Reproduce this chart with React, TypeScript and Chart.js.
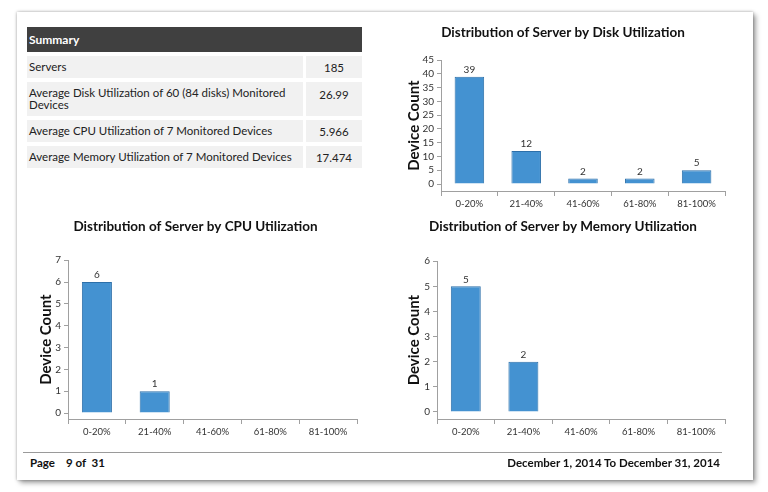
import React, { useEffect, useRef } from "react";
import { Chart, registerables } from "chart.js";

Chart.register(...registerables);

const FONT = "Lato, 'Open Sans', sans-serif";

const categories = ["0-20%", "21-40%", "41-60%", "61-80%", "81-100%"];
const diskCounts = [39, 12, 2, 2, 5];
const cpuCounts = [6, 1, 0, 0, 0];
const memoryCounts = [5, 2, 0, 0, 0];

const diskTicks = [0, 5, 10, 15, 20, 25, 30, 35, 40, 45];
const cpuTicks = [0, 1, 2, 3, 4, 5, 6, 7];
const memoryTicks = [0, 1, 2, 3, 4, 5, 6];

const summaryLabels = [
  "Servers",
  "Average Disk Utilization of 60 (84 disks) Monitored Devices",
  "Average CPU Utilization of 7 Monitored Devices",
  "Average Memory Utilization of 7 Monitored Devices",
];
const summaryValues = ["185", "26.99", "5.966", "17.474"];

const BAR_FILL = "#4492D1";
const BAR_BORDER = "#2C6FA9";
const AXIS = "#A0A0A0";

const valueLabels = {
  id: "valueLabels",
  afterDatasetsDraw(chart: any) {
    const ctx = chart.ctx;
    const meta = chart.getDatasetMeta(0);
    const vals = chart.data.datasets[0].data;
    ctx.save();
    ctx.font = `10px ${FONT}`;
    ctx.fillStyle = "#333";
    ctx.textAlign = "center";
    ctx.textBaseline = "bottom";
    meta.data.forEach((bar: any, i: number) => {
      const v = vals[i];
      if (!v) return;
      ctx.fillText(String(v), bar.x, bar.y - 2);
    });
    ctx.restore();
  },
};

type BarProps = {
  title: string;
  values: number[];
  ticks: number[];
  yMin: number;
  left: number;
  top: number;
  width: number;
  height: number;
  padLeft: number;
  padRight: number;
  yWidth: number;
  yTitlePad: number;
  xHeight: number;
  titleBottom: number;
};

function BarChart(p: BarProps) {
  const ref = useRef<HTMLCanvasElement | null>(null);
  useEffect(() => {
    if (!ref.current) return;
    const chart = new Chart(ref.current, {
      type: "bar",
      data: {
        labels: categories,
        datasets: [
          {
            data: p.values,
            backgroundColor: BAR_FILL,
            borderColor: BAR_BORDER,
            borderWidth: 1,
            barPercentage: 0.52,
            categoryPercentage: 1,
          },
        ],
      },
      options: {
        responsive: false,
        maintainAspectRatio: false,
        animation: false,
        layout: {
          padding: { left: p.padLeft, right: p.padRight, top: 0, bottom: 0 },
        },
        plugins: {
          legend: { display: false },
          tooltip: { enabled: false },
          title: {
            display: true,
            text: p.title,
            color: "#111",
            font: { family: FONT, size: 13.5, weight: "bold" },
            padding: { top: 6, bottom: p.titleBottom },
          },
        },
        scales: {
          x: {
            grid: {
              offset: true,
              drawOnChartArea: false,
              color: AXIS,
              tickLength: 5,
            },
            border: { display: true, color: AXIS, width: 1 },
            ticks: {
              color: "#333",
              font: { family: FONT, size: 9.5 },
              padding: 2,
              maxRotation: 0,
              autoSkip: false,
            },
            afterFit: (s: any) => {
              s.height = p.xHeight;
            },
          },
          y: {
            min: p.yMin,
            max: p.ticks[p.ticks.length - 1],
            afterBuildTicks: (s: any) => {
              s.ticks = p.ticks.map((v) => ({ value: v }));
            },
            grid: {
              drawOnChartArea: false,
              color: AXIS,
              tickLength: 4,
            },
            border: { display: true, color: AXIS, width: 1 },
            ticks: {
              color: "#333",
              font: { family: FONT, size: 10 },
              padding: 3,
              autoSkip: false,
            },
            title: {
              display: true,
              text: "Device Count",
              color: "#111",
              font: { family: FONT, size: 15, weight: "bold" },
              padding: { top: p.yTitlePad, bottom: 0 },
            },
            afterFit: (s: any) => {
              s.width = p.yWidth;
            },
          },
        },
      },
      plugins: [valueLabels],
    });
    return () => chart.destroy();
  }, []);
  return (
    <canvas
      ref={ref}
      width={p.width}
      height={p.height}
      style={{
        position: "absolute",
        left: p.left,
        top: p.top,
        width: p.width,
        height: p.height,
      }}
    />
  );
}

const rowTops = [56, 82, 120, 146];
const rowHeights = [22, 34, 22, 22];

export default function App() {
  return (
    <div
      style={{
        position: "absolute",
        left: 0,
        top: 0,
        width: 768,
        height: 492,
        background: "#fff",
        fontFamily: FONT,
        overflow: "hidden",
      }}
    >
      <div
        style={{
          position: "absolute",
          left: 17,
          top: 12,
          width: 736,
          height: 468,
          background: "#fff",
          boxShadow: "0 0 3px rgba(0,0,0,0.35), 3px 3px 5px rgba(0,0,0,0.35)",
        }}
      />
      {/* Summary table */}
      <div
        style={{
          position: "absolute",
          left: 27,
          top: 27,
          width: 335,
          height: 25,
          background: "#404040",
          color: "#fff",
          fontWeight: "bold",
          fontSize: 12,
          lineHeight: "25px",
          paddingLeft: 2,
          boxSizing: "border-box",
        }}
      >
        Summary
      </div>
      {summaryLabels.map((lab, i) => (
        <React.Fragment key={i}>
          <div
            style={{
              position: "absolute",
              left: 27,
              top: rowTops[i],
              width: 276,
              height: rowHeights[i],
              background: "#F1F1F1",
              color: "#222",
              fontSize: 11.5,
              lineHeight: "12.5px",
              display: "flex",
              alignItems: "center",
              paddingLeft: 2,
              paddingRight: 4,
              boxSizing: "border-box",
            }}
          >
            {lab}
          </div>
          <div
            style={{
              position: "absolute",
              left: 306,
              top: rowTops[i],
              width: 56,
              height: rowHeights[i],
              background: "#F1F1F1",
              color: "#222",
              fontSize: 11.5,
              display: "flex",
              alignItems: i === 1 ? "flex-start" : "center",
              paddingTop: i === 1 ? 6 : 0,
              justifyContent: "center",
              boxSizing: "border-box",
            }}
          >
            {summaryValues[i]}
          </div>
        </React.Fragment>
      ))}
      <BarChart
        title="Distribution of Server by Disk Utilization"
        values={diskCounts}
        ticks={diskTicks}
        yMin={-2.54}
        left={396}
        top={19}
        width={330}
        height={196}
        padLeft={5}
        padRight={1}
        yWidth={40}
        yTitlePad={4}
        xHeight={24}
        titleBottom={19}
      />
      <BarChart
        title="Distribution of Server by CPU Utilization"
        values={cpuCounts}
        ticks={cpuTicks}
        yMin={-0.27}
        left={20}
        top={213}
        width={350}
        height={230}
        padLeft={14}
        padRight={13}
        yWidth={34}
        yTitlePad={3}
        xHeight={24}
        titleBottom={25}
      />
      <BarChart
        title="Distribution of Server by Memory Utilization"
        values={memoryCounts}
        ticks={memoryTicks}
        yMin={-0.28}
        left={396}
        top={213}
        width={330}
        height={230}
        padLeft={5}
        padRight={1}
        yWidth={36}
        yTitlePad={4}
        xHeight={24}
        titleBottom={26}
      />
      {/* Footer */}
      <div
        style={{
          position: "absolute",
          left: 23,
          top: 452,
          width: 699,
          height: 0,
          borderTop: "1.5px solid #9a9a9a",
        }}
      />
      <div
        style={{
          position: "absolute",
          left: 30,
          top: 456,
          fontSize: 11.5,
          fontWeight: "bold",
          color: "#111",
          whiteSpace: "pre",
        }}
      >
        {"Page    9 of  31"}
      </div>
      <div
        style={{
          position: "absolute",
          right: 768 - 720,
          top: 456,
          fontSize: 11.5,
          fontWeight: "bold",
          color: "#111",
          whiteSpace: "pre",
        }}
      >
        December 1, 2014 To December 31, 2014
      </div>
    </div>
  );
}
